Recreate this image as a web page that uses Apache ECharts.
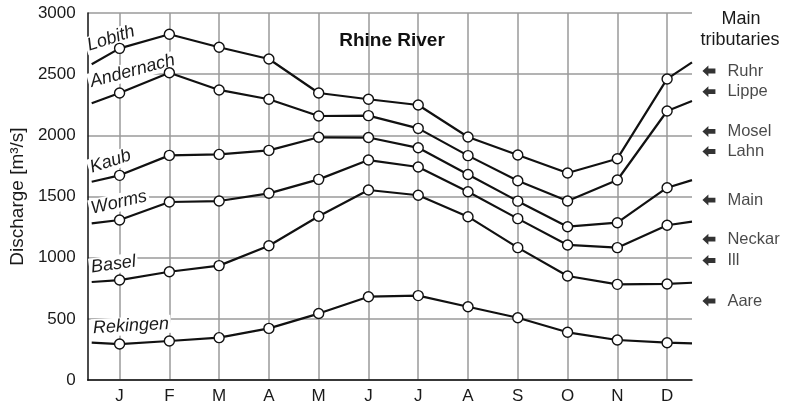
<!DOCTYPE html>
<html>
<head>
<meta charset="utf-8">
<script src="https://cdn.jsdelivr.net/npm/echarts@6/dist/echarts.min.js"></script>
<style>html,body{margin:0;padding:0;background:#fff}#c{width:786px;height:409px}</style>
</head>
<body>
<div id="c"></div>
<script>
const months = ['J','F','M','A','M','J','J','A','S','O','N','D'];
const yTicks = [0, 500, 1000, 1500, 2000, 2500, 3000];
const stations = ['Lobith','Andernach','Kaub','Worms','Basel','Rekingen'];
const lobith    = [2711, 2826, 2720, 2624, 2346, 2295, 2248, 1986, 1839, 1692, 1809, 2461];
const andernach = [2346, 2512, 2371, 2295, 2158, 2161, 2057, 1834, 1629, 1463, 1635, 2199];
const kaub      = [1673, 1836, 1844, 1877, 1984, 1982, 1898, 1680, 1462, 1253, 1286, 1572];
const worms     = [1308, 1455, 1463, 1526, 1640, 1798, 1741, 1539, 1319, 1104, 1082, 1265];
const basel     = [ 817,  885,  935, 1098, 1338, 1553, 1510, 1335, 1082,  850,  782,  785];
const rekingen  = [ 294,  319,  346,  422,  543,  681,  690,  599,  509,  390,  327,  305];
// continuation of each curve beyond the plotted months (Dec before / Jan after)
const edgeLeft  = [2581, 2262, 1621, 1280, 801, 305];
const edgeRight = [2597, 2281, 1634, 1294, 795, 300];
const tribNames  = ['Ruhr','Lippe','Mosel','Lahn','Main','Neckar','Ill','Aare'];
const tribLevels = [2526, 2357, 2032, 1868, 1471, 1151, 977, 646];

const allValues = [lobith, andernach, kaub, worms, basel, rekingen];
const X_MIN = 0.36, X_MAX = 12.5, X_EDGE_L = 0.44, X_ARROW = 12.84;

const lineSeries = allValues.map((vals, k) => {
  const data = [{value: [X_EDGE_L, edgeLeft[k]], symbol: 'none'}];
  vals.forEach((v, i) => data.push([i + 1, v]));
  data.push({value: [X_MAX, edgeRight[k]], symbol: 'none'});
  return {
    name: stations[k], type: 'line', data: data, z: 3,
    symbol: 'circle', symbolSize: 10, showAllSymbol: true,
    lineStyle: {color: '#111', width: 2.2},
    itemStyle: {color: '#fff', borderColor: '#111', borderWidth: 1.4},
    emphasis: {disabled: true}, animation: false
  };
});

const font = 'Liberation Sans, Arial, sans-serif';
const tribSeries = {
  type: 'scatter', clip: false, z: 3,
  data: tribNames.map((n, i) => ({name: n, value: [X_ARROW, tribLevels[i]]})),
  symbol: 'path://M0,5 L5.5,0 L5.5,2.8 L12,2.8 L12,7.2 L5.5,7.2 L5.5,10 Z',
  symbolSize: [13, 11], symbolKeepAspect: false,
  itemStyle: {color: '#000'},
  label: {show: true, position: 'right', distance: 12, formatter: '{b}',
          fontSize: 16.5, color: '#1a1a1a', fontFamily: font},
  animation: false
};

const stationLabels = [
  {t: 'Lobith',    x: 111, y: 38.5, r: 18},
  {t: 'Andernach', x: 132.5, y: 71, r: 15},
  {t: 'Kaub',      x: 110.5, y: 161.5, r: 18},
  {t: 'Worms',     x: 119, y: 202.5, r: 13},
  {t: 'Basel',     x: 113.5, y: 264.5, r: 7.6},
  {t: 'Rekingen',  x: 131, y: 326, r: 3.3}
];
const graphics = stationLabels.map(s => ({
  type: 'text', x: s.x, y: s.y, rotation: s.r * Math.PI / 180, z: 1,
  style: {text: s.t, fontSize: 18, fontStyle: 'italic', fontFamily: font, fill: '#1a1a1a',
          align: 'center', verticalAlign: 'middle', backgroundColor: '#fff', padding: [0, 2]}
}));
graphics.push({type: 'text', x: 392, y: 41, z: 5,
  style: {text: 'Rhine River', fontSize: 19, fontWeight: 'bold', fontFamily: font, fill: '#111',
          align: 'center', verticalAlign: 'middle'}});
graphics.push({type: 'text', x: 741, y: 19, z: 5,
  style: {text: 'Main', fontSize: 18, fontFamily: font, fill: '#1a1a1a', align: 'center', verticalAlign: 'middle'}});
graphics.push({type: 'text', x: 740, y: 40, z: 5,
  style: {text: 'tributaries', fontSize: 18, fontFamily: font, fill: '#1a1a1a', align: 'center', verticalAlign: 'middle'}});

const chart = echarts.init(document.getElementById('c'), null, {renderer: 'canvas'});
chart.setOption({
  animation: false,
  backgroundColor: '#fff',
  grid: {left: 84, right: 94, top: 13, bottom: 29, containLabel: false},
  xAxis: {
    type: 'value', min: X_MIN, max: X_MAX,
    axisLine: {show: true, lineStyle: {color: '#111', width: 1.5}},
    axisTick: {show: false, customValues: months.map((m, i) => i + 1)},
    axisLabel: {customValues: months.map((m, i) => i + 1), formatter: v => months[Math.round(v) - 1],
                fontSize: 17, color: '#1a1a1a', margin: 8, fontFamily: font},
    splitLine: {show: true, lineStyle: {color: '#9a9a9a', width: 1.5}}
  },
  yAxis: {
    type: 'value', min: yTicks[0], max: yTicks[yTicks.length - 1], interval: 500,
    name: 'Discharge [m³/s]', nameLocation: 'middle', nameGap: 57, nameRotate: 90,
    nameTextStyle: {fontSize: 19, color: '#1a1a1a', fontFamily: font},
    axisLine: {show: true, lineStyle: {color: '#111', width: 1.5}},
    axisTick: {show: false},
    axisLabel: {fontSize: 17, color: '#1a1a1a', margin: 12, fontFamily: font, formatter: v => String(v)},
    splitLine: {show: true, lineStyle: {color: '#9a9a9a', width: 1.5}}
  },
  series: lineSeries.concat([tribSeries]),
  graphic: graphics
});
</script>
</body>
</html>
